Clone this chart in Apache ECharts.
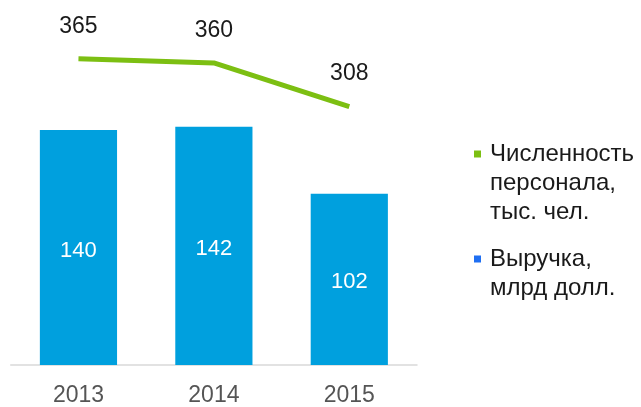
<!DOCTYPE html>
<html>
<head>
<meta charset="utf-8">
<script src="https://cdn.jsdelivr.net/npm/echarts@6/dist/echarts.min.js"></script>
<style>
html,body{margin:0;padding:0;background:#fff;}
#chart{width:641px;height:407px;}
</style>
</head>
<body>
<div id="chart"></div>
<script>
const categories = ['2013', '2014', '2015'];
const revenue = [140, 142, 102];
const staff = [365, 360, 308];
const staffName = 'Численность\nперсонала,\nтыс. чел.';
const revenueName = 'Выручка,\nмлрд долл.';

const chart = echarts.init(document.getElementById('chart'));
const font = '"Liberation Sans", Arial, sans-serif';
const LH = 29;
// leading blank lines so the legend icon sits beside the first text line
const padLines = (name) => {
  const n = name.split('\n').length;
  return '\n'.repeat(n - 1) + name;
};
chart.setOption({
  animation: false,
  grid: { left: 10.75, right: 224, top: 29.4, bottom: 39 },
  legend: [
    {
      data: [{ name: staffName, itemStyle: { color: '#7cbf12' } }],
      formatter: padLines,
      left: 474, top: 154 - LH * 2.5, padding: 0,
      icon: 'rect', itemWidth: 7, itemHeight: 7, itemGap: 0,
      textStyle: { fontFamily: font, fontSize: 24, color: '#1a1a1a', lineHeight: LH, padding: [0, 0, 0, 4] }
    },
    {
      data: [{ name: revenueName, itemStyle: { color: '#1f6ff2' } }],
      formatter: padLines,
      left: 474, top: 259 - LH * 1.5, padding: 0,
      icon: 'rect', itemWidth: 7, itemHeight: 7, itemGap: 0,
      textStyle: { fontFamily: font, fontSize: 24, color: '#1a1a1a', lineHeight: LH, padding: [0, 0, 0, 4] }
    }
  ],
  xAxis: {
    type: 'category',
    data: categories,
    axisTick: { show: false },
    axisLine: { lineStyle: { color: '#d9d9d9', width: 1.5 } },
    axisLabel: { fontFamily: font, fontSize: 23, color: '#555555', margin: 19 }
  },
  yAxis: [
    { type: 'value', min: 0, max: 200, show: false, splitLine: { show: false } },
    { type: 'value', min: 0, max: 400, show: false, splitLine: { show: false } }
  ],
  series: [
    {
      name: revenueName,
      type: 'bar',
      data: revenue,
      barWidth: '57%',
      yAxisIndex: 0,
      itemStyle: { color: '#00a0de' },
      label: { show: true, position: 'inside', offset: [0, 3], fontFamily: font, fontSize: 22, color: '#ffffff' }
    },
    {
      name: staffName,
      type: 'line',
      data: staff,
      yAxisIndex: 1,
      symbol: 'circle',
      symbolSize: 0,
      itemStyle: { color: '#7cbf12' },
      lineStyle: { color: '#7cbf12', width: 5 },
      label: { show: true, position: 'top', distance: 21, fontFamily: font, fontSize: 23, color: '#1a1a1a' }
    }
  ]
});
</script>
</body>
</html>
